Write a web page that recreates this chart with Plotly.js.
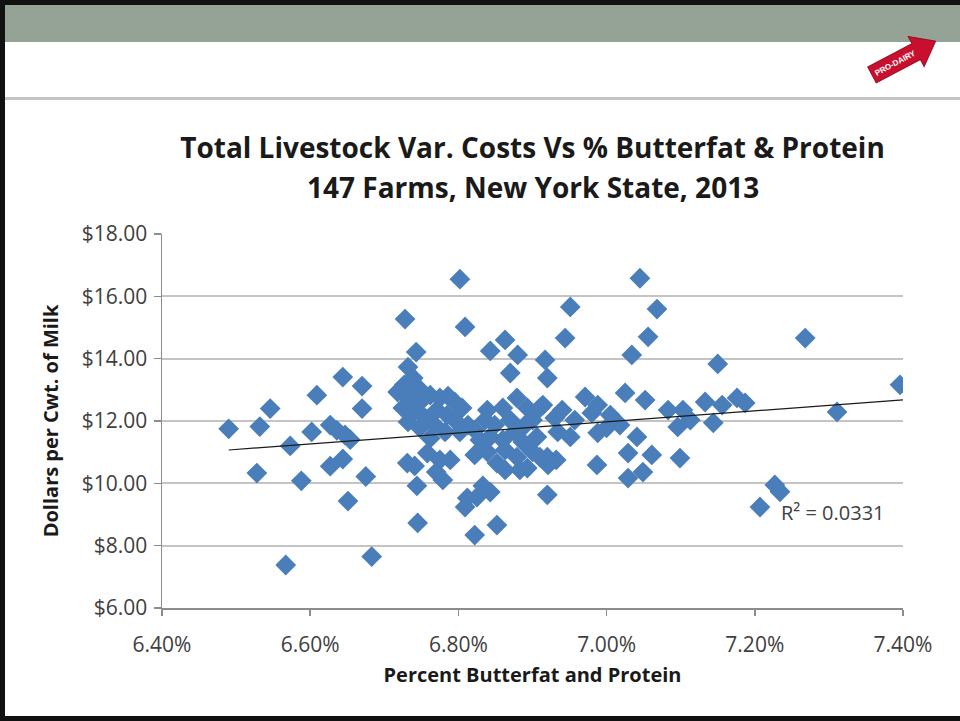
<!DOCTYPE html>
<html>
<head>
<meta charset="utf-8">
<script src="https://cdn.plot.ly/plotly-3.0.1.min.js"></script>
<style>
html,body{margin:0;padding:0;width:960px;height:721px;overflow:hidden;background:#fff;}
#band{position:absolute;left:0;top:0;width:960px;height:42px;background:#94a396;border-top:5px solid #111;box-sizing:border-box;}
#leftb{position:absolute;left:0;top:0;width:5px;height:721px;background:#111;}
#sep{position:absolute;left:5px;top:97px;width:955px;height:3px;background:#c4c4c4;}
#bottomb{position:absolute;left:0;top:716px;width:960px;height:5px;background:#111;}
#logo{position:absolute;left:858px;top:36px;}
#chart{position:absolute;left:0;top:0;width:960px;height:721px;}
</style>
</head>
<body>
<div id="band"></div>
<div id="leftb"></div>
<div id="sep"></div>
<div id="bottomb"></div>
<svg id="logo" width="90" height="56">
  <g transform="translate(14,39) rotate(-28)">
    <polygon points="0,-9 50,-9 50,-17 72,0 50,17 50,9 0,9" fill="#c8102e" stroke="#9a0d24" stroke-width="1"/>
    <text x="26" y="3" font-family="Liberation Sans, sans-serif" font-size="8" font-weight="bold" fill="#fff" text-anchor="middle">PRO-DAIRY</text>
  </g>
</svg>
<div id="chart"></div>
<script>
// Percent butterfat + protein (%)
var pctFatProtein = [
  6.490, 6.528, 6.532, 6.546, 6.567, 6.573, 6.588, 6.602, 6.609, 6.627, 6.627, 6.636, 6.644, 6.644, 6.647, 6.654, 6.651, 6.670, 6.670, 6.675, 6.683,
  6.732, 6.739, 6.727, 6.746, 6.732, 6.751, 6.725, 6.741, 6.762, 6.775, 6.786, 6.795, 6.805, 6.771, 6.785, 6.755, 6.732, 6.748, 6.768, 6.795, 6.813, 6.782, 6.802, 6.822, 6.762, 6.718,
  6.731, 6.741, 6.758, 6.775, 6.789, 6.770, 6.744, 6.779, 6.745, 6.809, 6.812, 6.825, 6.833, 6.843, 6.822, 6.852, 6.920,
  6.839, 6.860, 6.879, 6.893, 6.910, 6.870, 6.849, 6.890, 6.829, 6.843, 6.860, 6.887, 6.906, 6.876, 6.839, 6.852, 6.879, 6.893, 6.910, 6.863, 6.822, 6.900, 6.883, 6.921, 6.932, 6.863, 6.836, 6.900,
  6.802, 6.728, 6.809, 6.743, 6.843, 6.863, 6.880, 6.870, 6.917, 6.920,
  6.951, 7.045, 7.068, 6.944, 7.056, 7.034, 7.150, 7.025, 7.052, 6.971, 6.988, 6.914, 6.940, 6.930, 6.980, 7.005, 7.083, 7.103, 7.096, 7.133, 7.144, 7.156, 7.176, 7.187, 6.934, 6.951, 6.988, 7.000, 7.041, 6.920, 7.029, 7.061, 7.099, 6.987, 7.029, 7.049, 6.957, 7.018, 7.113,
  7.268, 7.396, 7.311, 7.227, 7.234, 7.207
];
// Total livestock variable costs ($ per cwt of milk)
var costPerCwt = [
  11.75, 10.33, 11.82, 12.40, 7.38, 11.20, 10.08, 11.65, 12.83, 11.87, 10.55, 11.70, 13.41, 10.78, 11.55, 11.40, 9.43, 13.12, 12.40, 10.22, 7.65,
  13.73, 13.38, 13.16, 13.06, 12.77, 12.67, 12.42, 12.35, 12.83, 12.74, 12.80, 12.61, 12.42, 12.35, 12.19, 12.10, 11.97, 11.78, 11.87, 12.03, 11.87, 11.65, 11.65, 11.71, 11.45, 12.93,
  10.65, 10.56, 10.97, 10.75, 10.75, 10.36, 9.92, 10.11, 8.73, 9.24, 9.53, 9.56, 9.92, 9.72, 8.34, 8.66, 9.63,
  12.35, 12.42, 12.74, 12.42, 12.42, 12.03, 11.87, 11.87, 11.39, 11.49, 11.39, 11.33, 11.49, 11.65, 11.01, 10.65, 10.84, 10.49, 10.84, 11.07, 10.91, 11.01, 10.43, 10.59, 10.75, 10.43, 12.03, 12.03,
  16.55, 15.27, 15.02, 14.21, 14.25, 14.60, 14.12, 13.54, 13.96, 13.38,
  15.66, 16.58, 15.59, 14.66, 14.70, 14.12, 13.83, 12.90, 12.67, 12.77, 12.51, 12.51, 12.35, 12.10, 12.26, 12.19, 12.35, 12.35, 11.81, 12.61, 11.94, 12.51, 12.74, 12.58, 11.65, 11.49, 11.62, 11.78, 11.49, 10.84, 10.97, 10.91, 10.81, 10.59, 10.17, 10.36, 12.03, 11.87, 12.03,
  14.66, 13.16, 12.29, 9.95, 9.73, 9.24
];
// Linear trendline endpoints
var trendX = [6.49, 7.40];
var trendY = [11.07, 12.68];
var xTicks = [6.4, 6.6, 6.8, 7.0, 7.2, 7.4];
var xTickLabels = ['6.40%', '6.60%', '6.80%', '7.00%', '7.20%', '7.40%'];
var yTicks = [6, 8, 10, 12, 14, 16, 18];
var yTickLabels = ['$6.00', '$8.00', '$10.00', '$12.00', '$14.00', '$16.00', '$18.00'];
var rSquaredText = 'R² = 0.0331';
var titleLine1 = 'Total Livestock Var. Costs Vs % Butterfat & Protein';
var titleLine2 = '147 Farms, New York State, 2013';
var xTitle = 'Percent Butterfat and Protein';
var yTitle = 'Dollars per Cwt. of Milk';

var FONT = '"Open Sans", Lato, "Liberation Sans", sans-serif';

var traces = [
  {
    type: 'scatter', mode: 'markers', x: pctFatProtein, y: costPerCwt,
    marker: {symbol: 'diamond', size: 16, color: '#4A7EBB', line: {width: 0}},
    hoverinfo: 'skip'
  },
  {
    type: 'scatter', mode: 'lines', x: trendX, y: trendY,
    line: {color: '#1a1a1a', width: 1.2}, hoverinfo: 'skip'
  }
];

var layout = {
  width: 960, height: 721,
  margin: {l: 162, r: 57, t: 234, b: 113},
  paper_bgcolor: 'rgba(0,0,0,0)', plot_bgcolor: 'rgba(0,0,0,0)',
  showlegend: false,
  font: {family: FONT, color: '#404040'},
  title: {
    text: '<b>' + titleLine1 + '</b>',
    font: {family: FONT, size: 28, color: '#1a1a1a'},
    x: 0.5, xref: 'paper', xanchor: 'center',
    y: 1 - 148 / 721, yref: 'container', yanchor: 'middle'
  },
  xaxis: {
    range: [6.4, 7.4], tickmode: 'array', tickvals: xTicks, ticktext: xTickLabels,
    showgrid: false, zeroline: false,
    showline: true, linecolor: '#8c8c8c', linewidth: 1.5,
    ticks: 'outside', ticklen: 6, tickcolor: '#8c8c8c', tickwidth: 1.5,
    tickfont: {family: FONT, size: 21, color: '#404040'},
    ticklabelstandoff: 11,
    automargin: false,
    title: {text: '<b>' + xTitle + '</b>', font: {family: FONT, size: 20, color: '#1a1a1a'}, standoff: 11}
  },
  yaxis: {
    range: [6, 18], tickmode: 'array', tickvals: yTicks, ticktext: yTickLabels,
    showgrid: true, gridcolor: '#c4c4c4', gridwidth: 2,
    zeroline: false,
    showline: true, linecolor: '#8c8c8c', linewidth: 1.5,
    ticks: 'outside', ticklen: 7, tickcolor: '#8c8c8c', tickwidth: 1.5,
    tickfont: {family: FONT, size: 21, color: '#404040'},
    ticklabelstandoff: 2,
    automargin: false,
    title: {text: '<b>' + yTitle + '</b>', font: {family: FONT, size: 20, color: '#1a1a1a'}, standoff: 17}
  },
  annotations: [
    {
      x: 0.5, y: 1, xref: 'paper', yref: 'paper', text: '<b>' + titleLine2 + '</b>',
      showarrow: false, xanchor: 'center', yanchor: 'middle',
      font: {family: FONT, size: 28, color: '#1a1a1a'}
    },
    {
      x: 7.233, y: 9.08, xref: 'x', yref: 'y', text: rSquaredText,
      showarrow: false, xanchor: 'left', yanchor: 'middle',
      font: {family: FONT, size: 20, color: '#404040'}
    }
  ]
};
// second title line: its pixel centre (y=187) expressed in paper units of the plot area (234..608)
layout.annotations[0].y = (608 - 187) / (608 - 234);

Plotly.newPlot('chart', traces, layout, {staticPlot: true, displayModeBar: false});
</script>
</body>
</html>
